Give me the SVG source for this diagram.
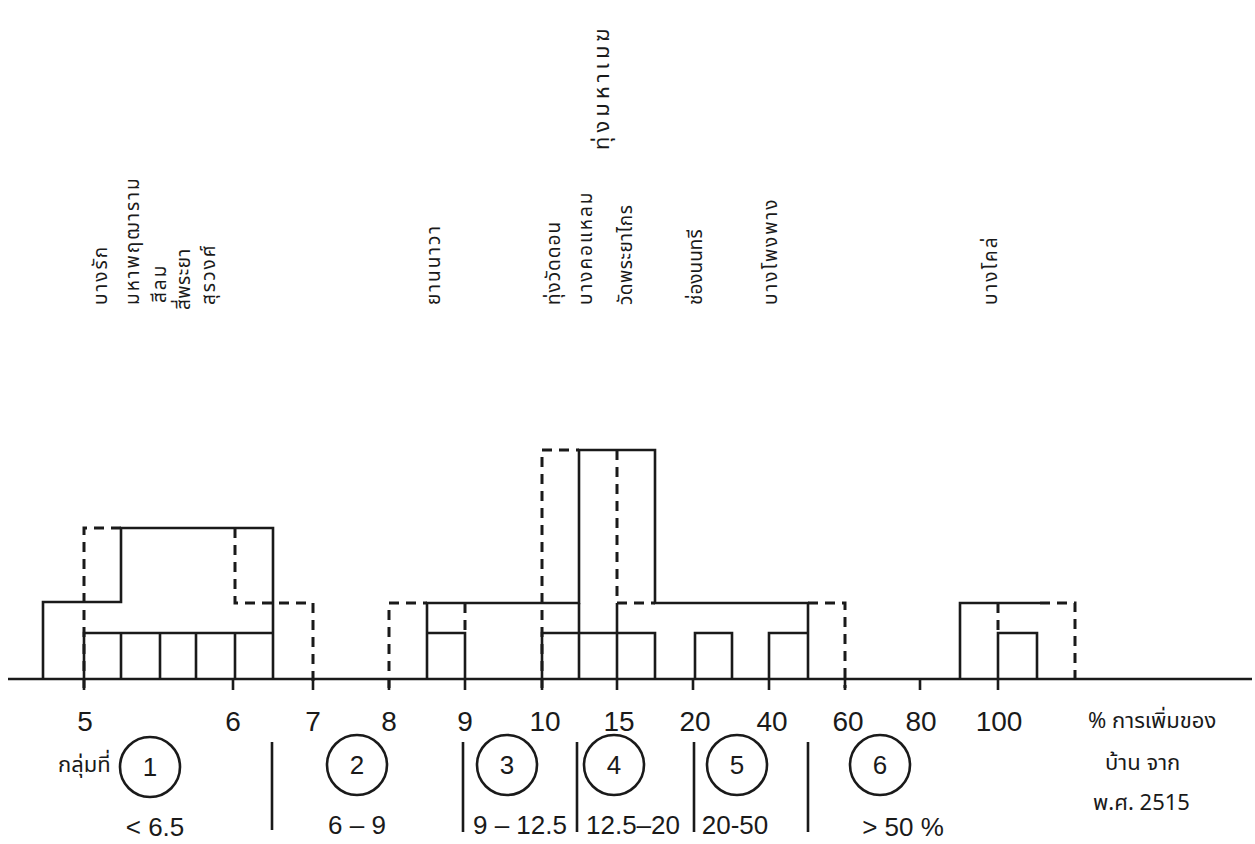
<svg xmlns="http://www.w3.org/2000/svg" width="1255" height="844" viewBox="0 0 1255 844">
<style>
.s{fill:none;stroke:#1a1a1a;stroke-width:2.6;stroke-linejoin:miter}
.d{fill:none;stroke:#1a1a1a;stroke-width:3;stroke-dasharray:10 7}
.n{font-family:"Liberation Sans",sans-serif;font-size:28px;fill:#1a1a1a;text-anchor:middle}
.r{font-family:"Liberation Sans",sans-serif;font-size:26px;fill:#1a1a1a;text-anchor:middle}
.t{font-family:"Noto Sans Thai","Noto Sans","DejaVu Sans",sans-serif;font-size:19px;fill:#1a1a1a;letter-spacing:2px}
.th{font-family:"Noto Sans Thai","Noto Sans","DejaVu Sans",sans-serif;font-size:22px;fill:#1a1a1a}
.c{fill:none;stroke:#1a1a1a;stroke-width:2.6}
</style>
<rect width="1255" height="844" fill="#ffffff"/>
<g id="district-labels">
<text class="t" transform="translate(107,305) rotate(-90)">บางรัก</text>
<text class="t" transform="translate(139,305) rotate(-90)">มหาพฤฒาราม</text>
<text class="t" transform="translate(166,303) rotate(-90)">สีลม</text>
<text class="t" transform="translate(190,310) rotate(-90)" style="letter-spacing:0.5px">สี่พระยา</text>
<text class="t" transform="translate(215,305) rotate(-90)">สุรวงศ์</text>
<text class="t" transform="translate(440,305) rotate(-90)">ยานนาวา</text>
<text class="t" transform="translate(560,305) rotate(-90)" style="letter-spacing:1px">ทุ่งวัดดอน</text>
<text class="t" transform="translate(592,305) rotate(-90)">บางคอแหลม</text>
<text class="t" transform="translate(632,305) rotate(-90)" style="letter-spacing:0.5px">วัดพระยาไกร</text>
<text class="t" transform="translate(702,305) rotate(-90)" style="letter-spacing:0px">ช่องนนทรี</text>
<text class="t" transform="translate(777,305) rotate(-90)">บางโพงพาง</text>
<text class="t" transform="translate(609,150) rotate(-90)" style="font-size:22px;letter-spacing:4px">ทุ่งมหาเมฆ</text>
<text class="t" transform="translate(997,305) rotate(-90)">บางโคล่</text>
</g>
<g id="histogram">
<path class="s" d="M43,679 V602 H121 V528 H273 V679"/>
<path class="s" d="M84,679 V633 H273 M121,633 V679 M160,633 V679 M196,633 V679 M235,633 V679"/>
<path class="s" d="M427,679 V603 H579 V450 H655 V603 H808 V679"/>
<path class="s" d="M427,633 H465 V679 M542,679 V633 H655 V679 M579,603 V679 M617,603 V679"/>
<path class="s" d="M695,679 V633 H732 V679 M769,679 V633 H808"/>
<path class="s" d="M960,679 V603 H1040 M998,679 V633 H1037 V679"/>
<path class="d" d="M84,688 V528 H121 M235,528 V603 H313 V688"/>
<path class="d" d="M389,688 V603 H427 M465,603 V633 M542,688 V450 H579 M617,450 V603 M617,603 H655 M808,603 H845 V688"/>
<path class="d" d="M998,603 V633 M1040,603 H1075 V679"/>
</g>
<g id="axis">
<path class="s" d="M8,679 H1252"/>
<path class="s" d="M84,679 V690 M233,679 V690 M313,679 V690 M389,679 V690 M465,679 V690 M542,679 V690 M617,679 V690 M693,679 V690 M769,679 V690 M845,679 V690 M920,679 V690 M998,679 V690"/>
<text class="n" x="85" y="731">5</text>
<text class="n" x="233" y="731">6</text>
<text class="n" x="313" y="731">7</text>
<text class="n" x="389" y="731">8</text>
<text class="n" x="465" y="731">9</text>
<text class="n" x="545" y="731">10</text>
<text class="n" x="619" y="731">15</text>
<text class="n" x="695" y="731">20</text>
<text class="n" x="772" y="731">40</text>
<text class="n" x="848" y="731">60</text>
<text class="n" x="921" y="731">80</text>
<text class="n" x="999" y="731">100</text>
<text class="th" x="1088" y="728">% การเพิ่มของ</text>
<text class="th" x="1105" y="770">บ้าน จาก</text>
<text class="th" x="1093" y="810">พ.ศ. 2515</text>
</g>
<g id="groups">
<text class="th" x="58" y="772">กลุ่มที่</text>
<g id="g1"><circle class="c" cx="150" cy="767" r="30"/><text class="r" x="150" y="776">1</text></g>
<g id="g2"><circle class="c" cx="357" cy="765" r="30"/><text class="r" x="357" y="774">2</text></g>
<g id="g3"><circle class="c" cx="507" cy="765" r="30"/><text class="r" x="507" y="774">3</text></g>
<g id="g4"><circle class="c" cx="614" cy="765" r="30"/><text class="r" x="614" y="774">4</text></g>
<g id="g5"><circle class="c" cx="737" cy="765" r="30"/><text class="r" x="737" y="774">5</text></g>
<g id="g6"><circle class="c" cx="880" cy="765" r="30"/><text class="r" x="880" y="774">6</text></g>
<path class="s" d="M272,742 V830 M463,742 V832 M577,742 V832 M694,742 V832 M808,742 V832"/>
<text class="r" x="155" y="836">&lt; 6.5</text>
<text class="r" x="357" y="834">6 – 9</text>
<text class="r" x="520" y="834">9 – 12.5</text>
<text class="r" x="633" y="834">12.5–20</text>
<text class="r" x="735" y="834">20-50</text>
<text class="r" x="903" y="836">&gt; 50 %</text>
</g>
</svg>
